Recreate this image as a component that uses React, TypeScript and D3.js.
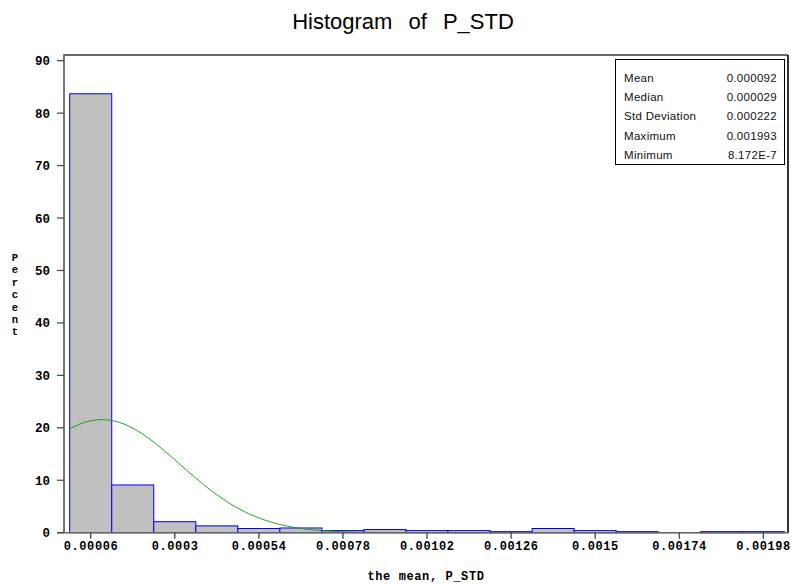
import React from "react";
import * as d3 from "d3";

// Histogram bins: midpoints and percent of observations per bin
const binMidpoints = [
  0.00006, 0.00018, 0.0003, 0.00042, 0.00054, 0.00066, 0.00078, 0.0009,
  0.00102, 0.00114, 0.00126, 0.00138, 0.0015, 0.00162, 0.00174, 0.00186, 0.00198,
];
const binPercents = [
  83.7, 9.1, 2.1, 1.3, 0.8, 0.9, 0.4, 0.6, 0.4, 0.4, 0.2, 0.8, 0.4, 0.2, 0, 0.2, 0.2,
];
const binWidth = 0.00012;

const xTicks = [0.00006, 0.0003, 0.00054, 0.00078, 0.00102, 0.00126, 0.0015, 0.00174, 0.00198];
const xTickLabels = ["0.00006", "0.0003", "0.00054", "0.00078", "0.00102", "0.00126", "0.0015", "0.00174", "0.00198"];
const yTicks = [0, 10, 20, 30, 40, 50, 60, 70, 80, 90];

// Summary statistics for the inset table
const statNames = ["Mean", "Median", "Std Deviation", "Maximum", "Minimum"];
const statValues = ["0.000092", "0.000029", "0.000222", "0.001993", "8.172E-7"];

// Parameters of the fitted normal curve
const fitMean = 0.000092;
const fitSd = 0.000222;

const W = 791;
const H = 584;
const frame = { left: 64, right: 788, top: 55, bottom: 532.7 };

export default function App() {
  const x = d3.scaleLinear().domain([0, 0.00198]).range([69.7, 763.3]);
  const y = d3.scaleLinear().domain([0, 90]).range([532.7, 60.7]);

  // Normal density scaled to percent per bin
  const scale = (100 * binWidth) / (fitSd * Math.sqrt(2 * Math.PI));
  const curveStart = binMidpoints[0] - binWidth / 2;
  const curveEnd = binMidpoints[binMidpoints.length - 1] + binWidth / 2;
  const samples = d3.range(0, 401).map((i) => curveStart + ((curveEnd - curveStart) * i) / 400);
  const curvePts: [number, number][] = samples.map((v) => {
    const z = (v - fitMean) / fitSd;
    return [v, scale * Math.exp(-0.5 * z * z)];
  });
  const line = d3
    .line<[number, number]>()
    .x((d) => x(d[0]))
    .y((d) => y(d[1]));

  const tickFont = "'Liberation Mono', 'DejaVu Sans Mono', monospace";
  const ylabel = "Percent".split("");

  return (
    <svg width={W} height={H} style={{ display: "block", position: "absolute", left: 0, top: 0, background: "#fff" }}>
      <rect x={0} y={0} width={W} height={H} fill="#fff" />
      <text
        x={403}
        y={29.3}
        textAnchor="middle"
        fontFamily="'Liberation Sans', Arial, sans-serif"
        fontSize={22}
        wordSpacing={10}
        fill="#000"
      >
        Histogram of P_STD
      </text>

      {/* bars */}
      {binMidpoints.map((m, i) =>
        binPercents[i] > 0 ? (
          <rect
            key={i}
            x={x(m - binWidth / 2)}
            y={y(binPercents[i])}
            width={x(m + binWidth / 2) - x(m - binWidth / 2)}
            height={y(0) - y(binPercents[i])}
            fill="#c0c0c0"
            stroke="#0000f0"
            strokeWidth={1}
          />
        ) : null
      )}

      {/* fitted normal curve */}
      <path d={line(curvePts) || ""} fill="none" stroke="#1f9a1f" strokeWidth={1} />

      {/* frame */}
      <line x1={frame.left} y1={frame.top} x2={frame.right} y2={frame.top} stroke="#666" strokeWidth={2} />
      <line x1={frame.right} y1={frame.top} x2={frame.right} y2={frame.bottom} stroke="#333" strokeWidth={2} />
      <line x1={frame.left} y1={frame.top - 1} x2={frame.left} y2={frame.bottom} stroke="#777" strokeWidth={2} />
      <line x1={frame.left - 7} y1={frame.bottom} x2={frame.right + 1} y2={frame.bottom} stroke="#666" strokeWidth={1.5} />

      {/* y axis */}
      {yTicks.map((t) => (
        <g key={t}>
          <line x1={frame.left - 7} x2={frame.left} y1={y(t)} y2={y(t)} stroke="#444" strokeWidth={1.2} />
          <text
            x={50}
            y={y(t) + 4.5}
            textAnchor="end"
            fontFamily={tickFont}
            fontWeight="bold"
            fontSize={12.5}
            fill="#000"
          >
            {t}
          </text>
        </g>
      ))}
      {ylabel.map((c, i) => (
        <text
          key={i}
          x={15}
          y={261 + i * 12.4}
          textAnchor="middle"
          fontFamily={tickFont}
          fontWeight="bold"
          fontSize={10.5}
          fill="#000"
        >
          {c}
        </text>
      ))}

      {/* x axis */}
      {xTicks.map((t, i) => (
        <g key={t}>
          <line x1={x(t)} x2={x(t)} y1={frame.bottom} y2={frame.bottom + 6} stroke="#333" strokeWidth={1.2} />
          <text
            x={x(t) + 0.3}
            y={550}
            textAnchor="middle"
            fontFamily={tickFont}
            fontWeight="bold"
            fontSize={12}
            letterSpacing={0.6}
            fill="#000"
          >
            {xTickLabels[i]}
          </text>
        </g>
      ))}
      <text
        x={426}
        y={580}
        textAnchor="middle"
        fontFamily={tickFont}
        fontWeight="bold"
        fontSize={12}
        letterSpacing={0.6}
        fill="#000"
      >
        the mean, P_STD
      </text>

      {/* summary statistics */}
      <rect x={615.5} y={59.5} width={169} height={105} fill="#fff" stroke="#000" strokeWidth={1} />
      {statNames.map((n, i) => (
        <g key={n}>
          <text
            x={624}
            y={81.5 + i * 19.4}
            fontFamily="'Liberation Sans', Arial, sans-serif"
            fontSize={11.5}
            letterSpacing={0.3}
            fill="#111"
          >
            {n}
          </text>
          <text
            x={777}
            y={81.5 + i * 19.4}
            textAnchor="end"
            fontFamily="'Liberation Sans', Arial, sans-serif"
            fontSize={11.5}
            letterSpacing={0.3}
            fill="#111"
          >
            {statValues[i]}
          </text>
        </g>
      ))}
    </svg>
  );
}
